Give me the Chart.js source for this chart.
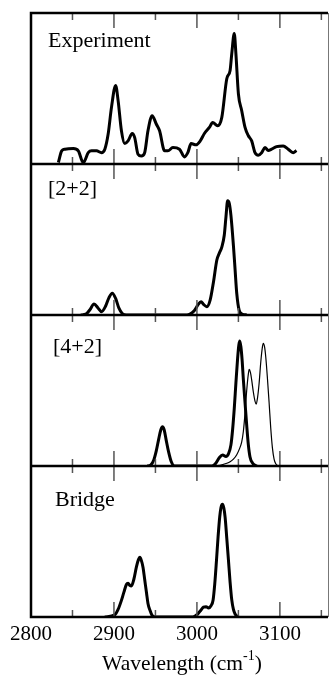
<!DOCTYPE html>
<html>
<head>
<meta charset="utf-8">
<script src="https://cdn.jsdelivr.net/npm/chart.js@4/dist/chart.umd.min.js"></script>
<style>
  html,body{margin:0;padding:0;background:#fff}
  canvas{display:block}
</style>
</head>
<body>
<canvas id="ch1" width="329" height="675"></canvas>
<script>
// x ticks (cm-1), labels only on the hundreds
const xTicks = [2800, 2850, 2900, 2950, 3000, 3050, 3100, 3150];
const panelNames = ['Experiment', '[2+2]', '[4+2]', 'Bridge'];
const panelIds = ['y1', 'y2', 'y3', 'y4'];

// Experiment (panel 1)
const expX = [2833,2837,2841,2851,2857,2863,2869,2873,2879,2885,2889,2893,2897,2902,2905,2909,2913,2917,2922,2925,2929,2933,2937,2941,2946,2951,2955,2961,2965,2971,2979,2985,2989,2993,2999,3004,3009,3015,3019,3025,3030,3036,3040,3042,3045,3047,3050,3054,3058,3062,3066,3070,3074,3078,3082,3086,3090,3096,3104,3110,3116,3120];
const expY = [1,8.7,9.8,10.2,8.7,0.9,7.5,8.7,8.7,7.5,9.8,19.8,37.5,52,42,22,13.5,15.3,20.2,17.5,6.5,5.3,7.5,22,32,26.5,22,8.7,8.7,10.9,9.8,4.7,7.5,13.5,12.7,15.3,20.2,24.2,27.5,25.3,30.9,56.5,62,73,86.5,73,46.5,35.3,24.2,18.7,15.3,7.5,5.8,7.5,10.9,9,9.8,11.5,12,9.8,7.5,9];

// [2+2] (panel 2)
const p22X = [2860,2866,2871,2876,2881,2885,2890,2894,2898,2902,2906,2910,2915,2985,2991,2997,3001,3005,3008,3012,3016,3020,3024,3027,3030,3033,3035,3037,3039,3041,3044,3046,3048,3051,3055,3060];
const p22Y = [0,0.5,3.5,7.3,4.5,2.2,6,11.5,14.4,11,4.5,1,0,0,0.5,3,6.5,8.8,7,5.5,10,22,36.4,41,45,53,65,75.7,74,66,46,30,14.4,3,0.5,0];

// [4+2] (panel 3), thick and thin curves
const p42X = [2940,2944,2948,2951,2954,2956.5,2958.5,2960.5,2963,2966,2969,2973,3018,3023,3027,3031,3035,3038,3041,3043,3045,3047,3049,3050.5,3051.6,3053,3054.5,3056,3058,3060,3062,3064,3067,3072];
const p42Y = [0,0.5,4,10,18,24,26,24,17,9,3,0,0,2,5.5,7.3,6.3,8,14,24,38,55,71,80,82.8,79,70,57,42,27,14,6,2,0];
const p42thinX = [3022,3030,3036,3040,3044,3048,3051,3054,3056,3058,3060,3062,3063,3064.5,3066,3068,3070,3071.5,3073,3075,3077,3079,3080,3081.5,3083,3085,3087,3089,3091,3093,3095,3098];
const p42thinY = [0,0.8,1.8,2.8,4.5,7.5,11,16,23,35,50,61,64,62,57,49,43,41,45,55,69,79,81.3,79,72,58,42,25,12,4.5,1.5,0];

// Bridge (panel 4)
const bridgeX = [2889,2901,2905,2909,2912,2915,2917,2919,2921,2924,2927,2929.5,2931.2,2933,2935,2937,2939.3,2941,2943.3,2946,2950,2995,3000,3004,3008,3011,3014,3017,3019.5,3021.5,3023.6,3025.5,3027.5,3029,3030.8,3032.5,3034,3036,3038,3040,3042,3044,3046,3050];
const bridgeY = [0,1.5,5,11,16.5,21.5,22.3,21,20.5,25,33,38,39.5,37.5,33,25,15.7,9,4.6,1,0,0,1.5,4,6.5,6.8,6,7.5,11.3,22,37.7,53,66.4,72.5,74.6,72,66,52,37.7,23,11.3,5,2,0];

const FONT = '"Liberation Serif", "Times New Roman", serif';

function pts(xs, ys){ return xs.map((x, i) => ({x, y: ys[i]})); }

const lineDs = (xs, ys, axis, width) => ({
  data: pts(xs, ys),
  yAxisID: axis,
  borderColor: '#000',
  borderWidth: width,
  pointRadius: 0,
  cubicInterpolationMode: 'monotone',
  fill: false,
});

// frames, inward ticks, panel names, axis title
const framePlugin = {
  id: 'frame',
  afterDatasetsDraw(chart){
    const {ctx, chartArea: a, scales} = chart;
    const x = scales.x;
    ctx.save();
    // ticks
    ctx.strokeStyle = '#555';
    ctx.lineWidth = 1.5;
    panelIds.forEach(id => {
      const s = scales[id];
      xTicks.forEach(v => {
        const px = x.getPixelForValue(v);
        const len = v % 100 === 0 ? 15 : 7;
        ctx.beginPath();
        ctx.moveTo(px, s.top); ctx.lineTo(px, s.top + len);
        ctx.moveTo(px, s.bottom); ctx.lineTo(px, s.bottom - len);
        ctx.stroke();
      });
    });
    // right border (thin)
    ctx.strokeStyle = '#777';
    ctx.lineWidth = 1;
    ctx.beginPath();
    ctx.moveTo(a.right + 0.5, a.top); ctx.lineTo(a.right + 0.5, a.bottom);
    ctx.stroke();
    // panel top/bottom lines + left border
    ctx.strokeStyle = '#000';
    ctx.lineWidth = 2.5;
    ctx.beginPath();
    panelIds.forEach(id => {
      const s = scales[id];
      ctx.moveTo(a.left, s.top); ctx.lineTo(a.right, s.top);
      ctx.moveTo(a.left, s.bottom); ctx.lineTo(a.right, s.bottom);
    });
    ctx.moveTo(a.left, a.top - 1.2); ctx.lineTo(a.left, a.bottom + 1.2);
    ctx.stroke();
    // panel names
    const nameX = [48, 48, 53, 55];
    const nameDy = [34, 31, 38, 40];
    ctx.fillStyle = '#000';
    ctx.font = '22px ' + FONT;
    ctx.textAlign = 'left';
    ctx.textBaseline = 'alphabetic';
    panelIds.forEach((id, i) => {
      ctx.fillText(panelNames[i], nameX[i], scales[id].top + nameDy[i]);
    });
    // x axis title with superscript
    const main = 'Wavelength (cm';
    const sup = '-1';
    const tail = ')';
    ctx.font = '21.5px ' + FONT;
    const wMain = ctx.measureText(main).width;
    const wTail = ctx.measureText(tail).width;
    ctx.font = '14px ' + FONT;
    const wSup = ctx.measureText(sup).width;
    const total = wMain + wSup + wTail;
    let tx = 182 - total / 2;
    const base = 670;
    ctx.font = '21.5px ' + FONT;
    ctx.fillText(main, tx, base);
    tx += wMain;
    ctx.font = '14px ' + FONT;
    ctx.fillText(sup, tx, base - 10);
    tx += wSup;
    ctx.font = '21.5px ' + FONT;
    ctx.fillText(tail, tx, base);
    ctx.restore();
  }
};

const yAxis = (weight) => ({
  type: 'linear',
  position: 'left',
  stack: 'panels',
  stackWeight: 1,
  weight: weight,
  min: 0,
  max: 100,
  ticks: {display: false},
  grid: {display: false, drawTicks: false},
  border: {display: false},
  afterFit: s => { s.width = 0; }
});

new Chart(document.getElementById('ch1'), {
  type: 'line',
  data: {
    datasets: [
      lineDs(expX, expY, 'y1', 3),
      lineDs(p22X, p22Y, 'y2', 3),
      lineDs(p42X, p42Y, 'y3', 3),
      lineDs(p42thinX, p42thinY, 'y3', 1.2),
      lineDs(bridgeX, bridgeY, 'y4', 3),
    ]
  },
  options: {
    responsive: false,
    animation: false,
    devicePixelRatio: 1,
    layout: {padding: {left: 31, right: 1, top: 13, bottom: 0}},
    plugins: {legend: {display: false}, tooltip: {enabled: false}},
    scales: {
      x: {
        type: 'linear',
        position: 'bottom',
        min: 2800,
        max: 3158,
        afterBuildTicks: s => { s.ticks = xTicks.map(v => ({value: v})); },
        afterFit: s => { s.height = 58; },
        ticks: {
          autoSkip: false,
          maxRotation: 0,
          padding: 5,
          color: '#000',
          font: {family: FONT, size: 21},
          callback: v => (v % 100 === 0 ? String(v) : '')
        },
        grid: {display: false, drawTicks: false},
        border: {display: false}
      },
      y1: yAxis(4),
      y2: yAxis(3),
      y3: yAxis(2),
      y4: yAxis(1)
    }
  },
  plugins: [framePlugin]
});
</script>
</body>
</html>
